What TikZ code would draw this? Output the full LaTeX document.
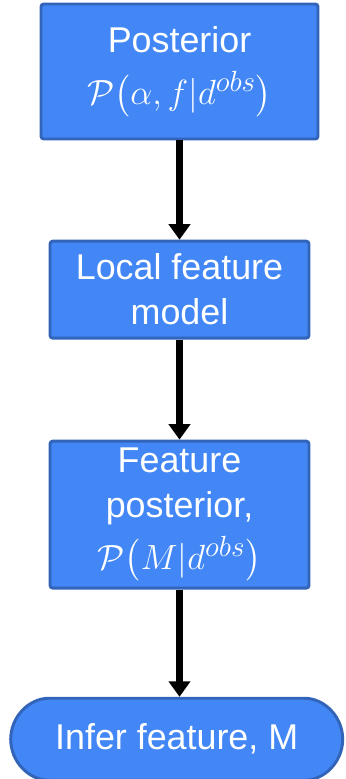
\documentclass[tikz,border=0pt]{standalone}
\usepackage{fontspec}
\setmainfont{Liberation Sans}
\usepackage{amsmath}
\usetikzlibrary{positioning,arrows.meta,shapes.misc}
\definecolor{boxblue}{RGB}{66,135,245}
\definecolor{edgeblue}{RGB}{50,100,185}
\newcommand{\bigmath}{\fontsize{29}{32}\selectfont}
\tikzset{
  box/.style={draw=edgeblue,fill=boxblue,line width=2.1pt,rounded corners=2pt,
    text=white,align=center,inner sep=0pt,minimum width=6.475cm,
    font=\fontsize{25.5}{32}\selectfont},
  term/.style={box,rounded rectangle,minimum width=8.3cm,minimum height=2.05cm},
  arr/.style={-{Triangle[length=11pt,width=15pt]},line width=5pt,black}
}
\begin{document}
\begin{tikzpicture}
\useasboundingbox (0,0) rectangle (8.625,-19.475);
\node [box,minimum width=6.925cm,minimum height=3.375cm] (post) at (4.4875,-1.7875)
  {Posterior\\[5pt]{\bigmath$\mathcal{P}\big(\alpha,f|d^{obs}\big)$}};
\node [box,minimum height=2.425cm,below=2.48cm of post] (local) {Local feature\\model};
\node [box,minimum height=3.675cm,below=2.5cm of local] (fpost)
  {Feature\\posterior,\\[5pt]{\bigmath$\mathcal{P}\big(M|d^{obs}\big)$}};
\node [term,below=2.68cm of fpost.south,anchor=north,xshift=-0.07cm] (infer) {Infer feature, M};

\draw [arr] (post.south) -- (local.north);
\draw [arr] (local.south) -- (fpost.north);
\draw [arr] (fpost.south) -- (fpost.south |- infer.north);
\end{tikzpicture}
\end{document}
